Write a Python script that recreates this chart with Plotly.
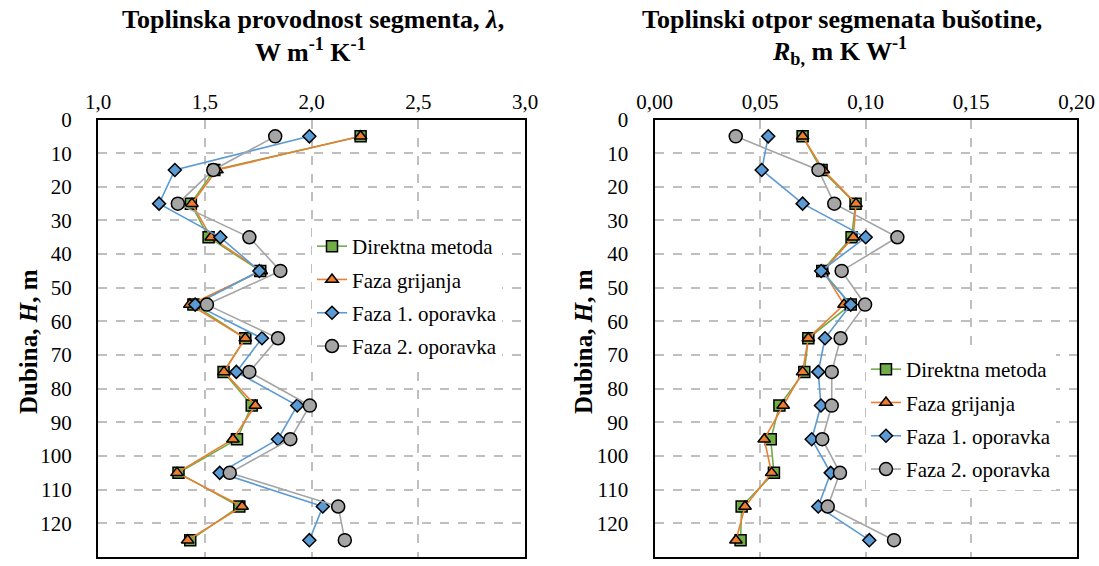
import plotly.graph_objects as go

depth = [5, 15, 25, 35, 45, 55, 65, 75, 85, 95, 105, 115, 125]

# Thermal conductivity (W m-1 K-1)
lam_direct = [2.23, 1.545, 1.435, 1.518, 1.76, 1.447, 1.69, 1.588, 1.72, 1.651, 1.377, 1.662, 1.432]
lam_heat   = [2.23, 1.557, 1.44, 1.53, 1.765, 1.43, 1.69, 1.59, 1.737, 1.632, 1.37, 1.675, 1.42]
lam_rec1   = [1.99, 1.36, 1.286, 1.573, 1.756, 1.455, 1.768, 1.648, 1.933, 1.843, 1.57, 2.053, 1.99]
lam_rec2   = [1.83, 1.54, 1.374, 1.709, 1.854, 1.51, 1.843, 1.709, 1.992, 1.901, 1.617, 2.125, 2.156]

# Borehole thermal resistance (m K W-1)
rb_direct = [0.0702, 0.0792, 0.0953, 0.0934, 0.0795, 0.093, 0.0729, 0.071, 0.0592, 0.0551, 0.0566, 0.0413, 0.0408]
rb_heat   = [0.0702, 0.0800, 0.0955, 0.0942, 0.0800, 0.0898, 0.0729, 0.0702, 0.061, 0.052, 0.0555, 0.0429, 0.0386]
rb_rec1   = [0.0539, 0.0508, 0.0702, 0.1001, 0.079, 0.093, 0.0808, 0.0776, 0.0789, 0.0745, 0.0835, 0.0776, 0.1018]
rb_rec2   = [0.0385, 0.0777, 0.0852, 0.1151, 0.0887, 0.0998, 0.0882, 0.084, 0.084, 0.0795, 0.0879, 0.0821, 0.1135]

names = ["Direktna metoda", "Faza grijanja", "Faza 1. oporavka", "Faza 2. oporavka"]
colors = ["#70AD47", "#ED7D31", "#5B9BD5", "#A5A5A5"]
symbols = ["square", "triangle-up", "diamond", "circle"]
sizes = [11, 11, 10, 13]

FONT = "Liberation Serif"
W, H = 1099, 566

fig = go.Figure()

for i, vals in enumerate([lam_direct, lam_heat, lam_rec1, lam_rec2]):
    fig.add_trace(go.Scatter(
        x=vals, y=depth, mode="lines+markers", name=names[i],
        line=dict(color=colors[i], width=1.6),
        marker=dict(symbol=symbols[i], size=sizes[i], color=colors[i],
                    line=dict(color="black", width=1.5)),
        xaxis="x", yaxis="y", legend="legend", legendgroup="a%d" % i))

for i, vals in enumerate([rb_direct, rb_heat, rb_rec1, rb_rec2]):
    fig.add_trace(go.Scatter(
        x=vals, y=depth, mode="lines+markers", name=names[i],
        line=dict(color=colors[i], width=1.6),
        marker=dict(symbol=symbols[i], size=sizes[i], color=colors[i],
                    line=dict(color="black", width=1.5)),
        xaxis="x2", yaxis="y2", legend="legend2", legendgroup="b%d" % i))

def px_x(p):
    return p / W

def px_y(p):
    return 1 - p / H

ydom = [px_y(557), px_y(119.5)]
TICKFONT = dict(family=FONT, size=21, color="black")
LEGFONT = dict(family=FONT, size=21, color="black")

common_x = dict(side="top", showline=True, mirror=True, linecolor="black", linewidth=2,
                showgrid=True, gridcolor="#BFBFBF", griddash="dash", gridwidth=1.5,
                zeroline=False, ticks="", tickfont=TICKFONT, automargin=False)
common_y = dict(showline=True, mirror=True, linecolor="black", linewidth=2,
                showgrid=True, gridcolor="#BFBFBF", griddash="dash", gridwidth=1.5,
                zeroline=False, ticks="", tickfont=TICKFONT,
                range=[130, 0], dtick=10, tick0=0, automargin=False, domain=ydom,
                ticklabelstandoff=20)

fig.update_layout(
    width=W, height=H,
    margin=dict(l=0, r=0, t=0, b=0),
    paper_bgcolor="white", plot_bgcolor="white",
    separators=",.",
    font=dict(family=FONT, color="black"),
    xaxis=dict(common_x, domain=[px_x(98), px_x(525)], range=[1, 3], dtick=0.5, tick0=1,
               tickformat=".1f", anchor="y"),
    yaxis=dict(common_y, anchor="x"),
    xaxis2=dict(common_x, domain=[px_x(654.5), px_x(1076.5)], range=[0, 0.2], dtick=0.05, tick0=0,
                tickformat=".2f", anchor="y2"),
    yaxis2=dict(common_y, anchor="x2"),
    legend=dict(x=px_x(312), y=px_y(226), xanchor="left", yanchor="top",
                bgcolor="white", font=LEGFONT, tracegroupgap=3, traceorder="grouped"),
    legend2=dict(x=px_x(866), y=px_y(349), xanchor="left", yanchor="top",
                 bgcolor="white", font=LEGFONT, tracegroupgap=3, traceorder="grouped"),
    showlegend=True,
)

TFONT = dict(family=FONT, size=26, color="black")
ann = []
ann.append(dict(text="<b>Toplinska provodnost segmenta, <i>λ</i>,</b>",
                x=px_x(313), y=px_y(19), xref="paper", yref="paper", xanchor="center", yanchor="middle",
                showarrow=False, font=TFONT))
ann.append(dict(text="<b>W m<sup>-1</sup> K<sup>-1</sup></b>",
                x=px_x(310), y=px_y(51), xref="paper", yref="paper", xanchor="center", yanchor="middle",
                showarrow=False, font=TFONT))
ann.append(dict(text="<b>Toplinski otpor segmenata bušotine,</b>",
                x=px_x(842), y=px_y(19), xref="paper", yref="paper", xanchor="center", yanchor="middle",
                showarrow=False, font=TFONT))
ann.append(dict(text="<b><i>R</i><sub>b,</sub> m K W<sup>-1</sup></b>",
                x=px_x(839), y=px_y(51), xref="paper", yref="paper", xanchor="center", yanchor="middle",
                showarrow=False, font=TFONT))
for xc in [28, 583]:
    ann.append(dict(text="<b>Dubina, <i>H</i>, m</b>", textangle=-90,
                    x=px_x(xc), y=px_y(342), xref="paper", yref="paper",
                    xanchor="center", yanchor="middle", showarrow=False,
                    font=dict(family=FONT, size=25, color="black")))
fig.update_layout(annotations=ann)

fig.write_html("out.html", config={"displayModeBar": False},
               post_script="document.body.style.margin='0';document.body.style.overflow='hidden';")
